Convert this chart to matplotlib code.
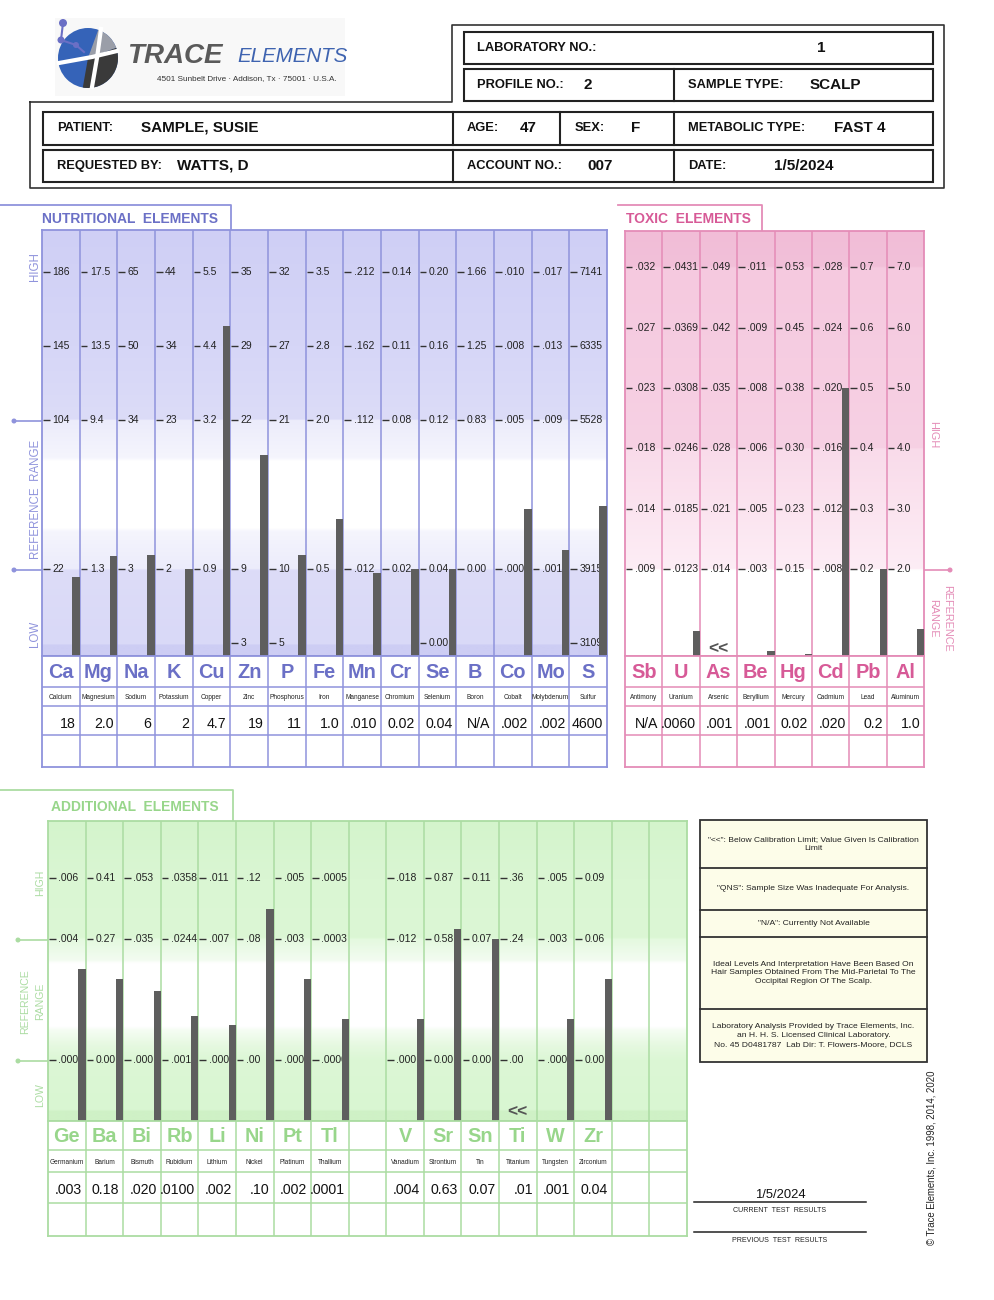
import matplotlib
matplotlib.use('Agg')
import matplotlib.pyplot as plt
import numpy as np
from matplotlib import font_manager as fm
from matplotlib.colors import to_rgb
from matplotlib.patches import Rectangle, Circle, Wedge

W, H = 994, 1300

# narrow font if the system has one, else shrink the regular one
try:
    fm.findfont(fm.FontProperties(family='Liberation Sans Narrow'), fallback_to_default=False)
    NARROW, NS = 'Liberation Sans Narrow', 1.0
except ValueError:
    NARROW, NS = 'Liberation Sans', 0.82
plt.rcParams['font.family'] = ['Liberation Sans', 'DejaVu Sans']

# ---- header data ----
lab_no = '1'
profile_no = '2'
sample_type = 'SCALP'
patient = 'SAMPLE, SUSIE'
age = '47'
sex = 'F'
metabolic_type = 'FAST 4'
requested_by = 'WATTS, D'
account_no = '007'
test_date = '1/5/2024'

# ---- nutritional elements ----
nutr_symbols = ['Ca', 'Mg', 'Na', 'K', 'Cu', 'Zn', 'P', 'Fe', 'Mn', 'Cr', 'Se', 'B', 'Co', 'Mo', 'S']
nutr_names = ['Calcium', 'Magnesium', 'Sodium', 'Potassium', 'Copper', 'Zinc', 'Phosphorus', 'Iron',
              'Manganese', 'Chromium', 'Selenium', 'Boron', 'Cobalt', 'Molybdenum', 'Sulfur']
nutr_results = ['18', '2.0', '6', '2', '4.7', '19', '11', '1.0', '.010', '0.02', '0.04', 'N/A', '.002', '.002', '4600']
nutr_lv5 = ['186', '17.5', '65', '44', '5.5', '35', '32', '3.5', '.212', '0.14', '0.20', '1.66', '.010', '.017', '7141']
nutr_lv4 = ['145', '13.5', '50', '34', '4.4', '29', '27', '2.8', '.162', '0.11', '0.16', '1.25', '.008', '.013', '6335']
nutr_lv3 = ['104', '9.4', '34', '23', '3.2', '22', '21', '2.0', '.112', '0.08', '0.12', '0.83', '.005', '.009', '5528']
nutr_lv1 = ['22', '1.3', '3', '2', '0.9', '9', '10', '0.5', '.012', '0.02', '0.04', '0.00', '.000', '.001', '3915']
nutr_lv0 = ['', '', '', '', '', '3', '5', '', '', '', '0.00', '', '', '', '3109']
# bar tops on the chart's grid-level scale
nutr_bar = [0.89, 1.17, 1.19, 1.0, 4.27, 2.54, 1.18, 1.67, 0.94, 1.0, 1.0, None, 1.8, 1.25, 1.85]

# ---- toxic elements ----
tox_symbols = ['Sb', 'U', 'As', 'Be', 'Hg', 'Cd', 'Pb', 'Al']
tox_names = ['Antimony', 'Uranium', 'Arsenic', 'Beryllium', 'Mercury', 'Cadmium', 'Lead', 'Aluminum']
tox_results = ['N/A', '.0060', '.001', '.001', '0.02', '.020', '0.2', '1.0']
tox_lv5 = ['.032', '.0431', '.049', '.011', '0.53', '.028', '0.7', '7.0']
tox_lv4 = ['.027', '.0369', '.042', '.009', '0.45', '.024', '0.6', '6.0']
tox_lv3 = ['.023', '.0308', '.035', '.008', '0.38', '.020', '0.5', '5.0']
tox_lv2 = ['.018', '.0246', '.028', '.006', '0.30', '.016', '0.4', '4.0']
tox_lv1 = ['.014', '.0185', '.021', '.005', '0.23', '.012', '0.3', '3.0']
tox_lv0 = ['.009', '.0123', '.014', '.003', '0.15', '.008', '0.2', '2.0']
tox_bar = [None, -1.03, None, -1.36, -1.41, 3.0, 0.0, -1.0]
tox_flags = ['', '', '<<', '', '', '', '', '']

# ---- additional elements ----
add_symbols = ['Ge', 'Ba', 'Bi', 'Rb', 'Li', 'Ni', 'Pt', 'Tl', '', 'V', 'Sr', 'Sn', 'Ti', 'W', 'Zr', '', '']
add_names = ['Germanium', 'Barium', 'Bismuth', 'Rubidium', 'Lithium', 'Nickel', 'Platinum', 'Thallium', '',
             'Vanadium', 'Strontium', 'Tin', 'Titanium', 'Tungsten', 'Zirconium', '', '']
add_results = ['.003', '0.18', '.020', '.0100', '.002', '.10', '.002', '.0001', '',
               '.004', '0.63', '0.07', '.01', '.001', '0.04', '', '']
add_lv3 = ['.006', '0.41', '.053', '.0358', '.011', '.12', '.005', '.0005', '',
           '.018', '0.87', '0.11', '.36', '.005', '0.09', '', '']
add_lv2 = ['.004', '0.27', '.035', '.0244', '.007', '.08', '.003', '.0003', '',
           '.012', '0.58', '0.07', '.24', '.003', '0.06', '', '']
add_lv0 = ['.000', '0.00', '.000', '.0017', '.000', '.00', '.000', '.0000', '',
           '.000', '0.00', '0.00', '.00', '.000', '0.00', '', '']
add_bar = [1.5, 1.33, 1.14, 0.73, 0.57, 2.5, 1.33, 0.67, None, 0.67, 2.17, 2.0, None, 0.67, 1.33, None, None]
add_flags = ['', '', '', '', '', '', '', '', '', '', '', '', '<<', '', '', '', '']

notes = [
    '"<<": Below Calibration Limit; Value Given Is Calibration\nLimit',
    '"QNS": Sample Size Was Inadequate For Analysis.',
    '"N/A": Currently Not Available',
    'Ideal Levels And Interpretation Have Been Based On\nHair Samples Obtained From The Mid-Parietal To The\nOccipital Region Of The Scalp.',
    'Laboratory Analysis Provided by Trace Elements, Inc.\nan H. H. S. Licensed Clinical Laboratory.\nNo. 45 D0481787  Lab Dir: T. Flowers-Moore, DCLS',
]

BLUE_L, BLUE_T = '#8f93dc', '#6b70c6'
PINK_L, PINK_T = '#e48cb7', '#d75a97'
GREEN_L, GREEN_T = '#abdca2', '#98d68b'

fig = plt.figure(figsize=(W / 100, H / 100), dpi=100)
bg = fig.add_axes([0, 0, 1, 1])
bg.set_xlim(0, W)
bg.set_ylim(H, 0)
bg.axis('off')


def box_axes(x0, y0, x1, y1):
    return fig.add_axes([x0 / W, 1 - y1 / H, (x1 - x0) / W, (y1 - y0) / H])


def panel(x0, x1, top, rows, lv_lo, lv_hi, stops, line_c, text_c, symbols, names, results,
          tick_rows, tick_levels, bars, flags, flag_lv, bar_w):
    n = len(symbols)
    ax = box_axes(x0, top, x1, rows[0])
    ys = np.linspace(lv_lo, lv_hi, 500)
    lv = [s[0] for s in stops]
    cols = np.array([to_rgb(s[1]) for s in stops])
    img = np.stack([np.interp(ys, lv, cols[:, k]) for k in range(3)], axis=-1)[:, None, :]
    ax.imshow(img, extent=[0, n, lv_lo, lv_hi], origin='lower', aspect='auto',
              interpolation='bilinear', zorder=0)
    ax.set_xlim(0, n)
    ax.set_ylim(lv_lo, lv_hi)
    ax.set_xticks([])
    ax.set_yticks([])
    for s in ax.spines.values():
        s.set_color(line_c)
        s.set_linewidth(1.3)
    for i in range(1, n):
        ax.axvline(i, color=line_c, lw=1.1, zorder=1)
    for labels, L in zip(tick_rows, tick_levels):
        for i, t in enumerate(labels):
            if t:
                ax.plot([i + 0.03, i + 0.2], [L, L], color='#333333', lw=1.0, zorder=2,
                        solid_capstyle='butt')
                ax.text(i + 0.27, L, t, fontsize=7.5, va='center', ha='left', color='#222222', zorder=3)
    idx = [i for i, b in enumerate(bars) if b is not None]
    ax.bar([i + 1 - bar_w / 2 for i in idx], [bars[i] - lv_lo for i in idx], bottom=lv_lo,
           width=bar_w, color='#5e5e5e', zorder=4)
    for i, f in enumerate(flags):
        if f:
            ax.text(i + 0.5, flag_lv, f, fontsize=12.5, weight='bold', color='#555555',
                    ha='center', va='center', zorder=5)

    tb = box_axes(x0, rows[0], x1, rows[-1])
    tb.set_xlim(0, n)
    tb.set_ylim(rows[-1], rows[0])
    tb.set_xticks([])
    tb.set_yticks([])
    for s in tb.spines.values():
        s.set_color(line_c)
        s.set_linewidth(1.3)
    for y in rows[1:-1]:
        tb.axhline(y, color=line_c, lw=1.1)
    for i in range(1, n):
        tb.axvline(i, color=line_c, lw=1.1)
    for i in range(n):
        tb.text(i + 0.5, (rows[0] + rows[1]) / 2 + 1, symbols[i], fontsize=17.5 * NS, family=NARROW,
                weight='bold', color=text_c, ha='center', va='center')
        tb.text(i + 0.5, (rows[1] + rows[2]) / 2 + 1, names[i], fontsize=4.7, color='#222222',
                ha='center', va='center')
        tb.text(i + 0.9, (rows[2] + rows[3]) / 2 + 3, results[i], fontsize=10.2, color='#111111',
                ha='right', va='center')
    return ax


# ---------------- header ----------------
bg.add_patch(Rectangle((55, 18), 290, 78, fc='#f8f8f8', ec='none'))
bg.add_patch(Circle((88, 58), 30, fc='#3563b8', ec='none'))
bg.add_patch(Wedge((88, 58), 30, -20, 100, fc='#3a3a3a', ec='none'))
bg.add_patch(Wedge((88, 58), 30, -70, -20, fc='#9a9ea8', ec='none'))
bg.plot([101, 97, 92], [29, 58, 87], color='white', lw=3)
bg.plot([59, 92, 117], [63, 57, 51], color='white', lw=3)
bg.plot([63, 61, 76, 84], [23, 40, 45, 52], color='#6a6fc5', lw=1.5)
for cx, cy, r in [(63, 23, 4), (61, 40, 3.5), (76, 45, 3)]:
    bg.add_patch(Circle((cx, cy), r, fc='#6a6fc5', ec='none'))
bg.text(127, 56, 'TRACE', fontsize=20, weight='bold', style='italic', color='#5a5a5a',
        ha='left', va='center')
bg.text(237, 56, 'ELEMENTS', fontsize=18 * NS, family=NARROW, style='italic', color='#3e63b0',
        ha='left', va='center')
bg.text(157, 79, '4501 Sunbelt Drive \u00b7 Addison, Tx \u00b7 75001 \u00b7 U.S.A.', fontsize=5.9,
        color='#333333', ha='left', va='center')

bg.plot([30, 452, 452, 944, 944, 30, 30], [102, 102, 25, 25, 188, 188, 102], color='#333333', lw=1.2)
for x0, y0, x1, y1 in [(464, 32, 933, 64), (464, 69, 933, 101), (43, 112, 933, 145), (43, 150, 933, 182)]:
    bg.add_patch(Rectangle((x0, y0), x1 - x0, y1 - y0, fill=False, ec='#222222', lw=1.5))
for x, y0, y1 in [(674, 69, 101), (453, 112, 145), (560, 112, 145), (674, 112, 145),
                  (453, 150, 182), (674, 150, 182)]:
    bg.plot([x, x], [y0, y1], color='#222222', lw=1.5)


def hlabel(x, y, s):
    bg.text(x, y, s, fontsize=9.3, weight='bold', color='#111111', ha='left', va='center')


def hvalue(x, y, s):
    bg.text(x, y, s, fontsize=11, weight='bold', color='#111111', ha='left', va='center')


hlabel(477, 48, 'LABORATORY NO.:')
hvalue(817, 48, lab_no)
hlabel(477, 85, 'PROFILE NO.:')
hvalue(583, 85, profile_no)
hlabel(688, 85, 'SAMPLE TYPE:')
hvalue(810, 85, sample_type)
hlabel(57, 128, 'PATIENT:')
hvalue(141, 128, patient)
hlabel(467, 128, 'AGE:')
hvalue(520, 128, age)
hlabel(575, 128, 'SEX:')
hvalue(631, 128, sex)
hlabel(688, 128, 'METABOLIC TYPE:')
hvalue(834, 128, metabolic_type)
hlabel(57, 166, 'REQUESTED BY:')
hvalue(177, 166, requested_by)
hlabel(467, 166, 'ACCOUNT NO.:')
hvalue(587, 166, account_no)
hlabel(688, 166, 'DATE:')
hvalue(774, 166, test_date)

# ---------------- nutritional ----------------
bg.plot([0, 231, 231], [205, 205, 230], color=BLUE_L, lw=1.3)
bg.text(42, 219, 'NUTRITIONAL  ELEMENTS', fontsize=12.2 * NS, family=NARROW, weight='bold',
        color=BLUE_T, ha='left', va='center')
nutr_stops = [(-0.175, '#cdcdf4'), (-0.03, '#cdcdf4'), (-0.02, '#d9d9f7'), (0.98, '#dddcf8'),
              (1.0, '#ececfb'), (1.5, '#f5f5fd'), (1.55, '#ffffff'), (2.45, '#ffffff'),
              (2.5, '#f5f5fd'), (3.0, '#ececfb'), (3.02, '#dcdcf8'), (4.0, '#d6d6f7'), (5.566, '#cfcff5')]
panel(42, 607, 230, [656, 687, 706, 735, 767], -0.175, 5.566, nutr_stops, BLUE_L, BLUE_T,
      nutr_symbols, nutr_names, nutr_results,
      [nutr_lv5, nutr_lv4, nutr_lv3, nutr_lv1, nutr_lv0], [5, 4, 3, 1, 0], nutr_bar, [''] * 15, 0, 0.2)
bg.text(35, 267, 'HIGH', rotation=90, fontsize=8.3, color=BLUE_L, ha='center', va='center')
bg.text(36, 499, 'REFERENCE  RANGE', rotation=90, fontsize=8.3, color=BLUE_L, ha='center', va='center')
bg.text(35, 634, 'LOW', rotation=90, fontsize=8.3, color=BLUE_L, ha='center', va='center')
for y in [421, 570]:
    bg.plot([14, 42], [y, y], color=BLUE_L, lw=1.2)
    bg.add_patch(Circle((14, y), 2.5, fc=BLUE_L, ec='none'))

# ---------------- toxic ----------------
bg.plot([618, 762, 762], [205, 205, 231], color=PINK_L, lw=1.3)
bg.text(626, 219, 'TOXIC  ELEMENTS', fontsize=12.2 * NS, family=NARROW, weight='bold',
        color=PINK_T, ha='left', va='center')
tox_stops = [(-1.44, '#ffffff'), (-0.02, '#ffffff'), (0.0, '#fdedf5'), (1.98, '#f9dbea'),
             (2.0, '#f7d1e4'), (4.98, '#f5c9df'), (5.0, '#f2c0d9'), (5.6, '#f1bdd7')]
panel(625, 924, 231, [656, 687, 706, 735, 767], -1.44, 5.6, tox_stops, PINK_L, PINK_T,
      tox_symbols, tox_names, tox_results,
      [tox_lv5, tox_lv4, tox_lv3, tox_lv2, tox_lv1, tox_lv0], [5, 4, 3, 2, 1, 0], tox_bar,
      tox_flags, -1.31, 0.19)
bg.text(933, 435, 'HIGH', rotation=270, fontsize=7.8, color=PINK_L, ha='center', va='center')
bg.text(947, 618, 'REFERENCE', rotation=270, fontsize=7.8, color=PINK_L, ha='center', va='center')
bg.text(933, 618, 'RANGE', rotation=270, fontsize=7.8, color=PINK_L, ha='center', va='center')
bg.plot([924, 950], [570, 570], color=PINK_L, lw=1.2)
bg.add_patch(Circle((950, 570), 2.5, fc=PINK_L, ec='none'))

# ---------------- additional ----------------
bg.plot([0, 233, 233], [790, 790, 821], color=GREEN_L, lw=1.3)
bg.text(51, 807, 'ADDITIONAL  ELEMENTS', fontsize=12.2 * NS, family=NARROW, weight='bold',
        color=GREEN_T, ha='left', va='center')
add_stops = [(-1.01, '#cff1c6'), (-0.85, '#cff1c6'), (-0.83, '#d9f6d2'), (0.0, '#dcf7d5'),
             (0.25, '#e6f9e1'), (0.5, '#f6fdf4'), (0.55, '#ffffff'), (1.6, '#ffffff'),
             (1.65, '#f3fcf1'), (2.0, '#e4f9df'), (2.02, '#dcf7d5'), (3.0, '#daf6d3'), (3.95, '#d4f4cc')]
panel(48, 687, 821, [1121, 1150, 1172, 1203, 1236], -1.01, 3.95, add_stops, GREEN_L, GREEN_T,
      add_symbols, add_names, add_results,
      [add_lv3, add_lv2, add_lv0], [3, 2, 0], add_bar, add_flags, -0.86, 0.19)
bg.text(40, 883, 'HIGH', rotation=90, fontsize=7.6, color=GREEN_L, ha='center', va='center')
bg.text(25, 1002, 'REFERENCE', rotation=90, fontsize=7.6, color=GREEN_L, ha='center', va='center')
bg.text(40, 1001, 'RANGE', rotation=90, fontsize=7.6, color=GREEN_L, ha='center', va='center')
bg.text(40, 1095, 'LOW', rotation=90, fontsize=7.6, color=GREEN_L, ha='center', va='center')
for y in [940, 1061]:
    bg.plot([18, 48], [y, y], color=GREEN_L, lw=1.2)
    bg.add_patch(Circle((18, y), 2.5, fc=GREEN_L, ec='none'))

# ---------------- notes ----------------
note_rows = [820, 868, 910, 937, 1009, 1062]
bg.add_patch(Rectangle((700, 820), 227, 242, fc='#fdfde9', ec='#333333', lw=1.3))
for y in note_rows[1:-1]:
    bg.plot([700, 927], [y, y], color='#333333', lw=1.3)
for k, txt in enumerate(notes):
    bg.text(813.5, (note_rows[k] + note_rows[k + 1]) / 2, txt, fontsize=6.1, color='#222222',
            ha='center', va='center', linespacing=1.35)

bg.plot([694, 866], [1202, 1202], color='#222222', lw=1.1)
bg.text(780, 1195, test_date, fontsize=9.4, color='#111111', ha='center', va='center')
bg.text(780, 1211, 'CURRENT  TEST  RESULTS', fontsize=5.1, color='#222222', ha='center', va='center')
bg.plot([694, 866], [1232, 1232], color='#222222', lw=1.1)
bg.text(780, 1240, 'PREVIOUS  TEST  RESULTS', fontsize=5.1, color='#222222', ha='center', va='center')
bg.text(932, 1158, '\u00a9 Trace Elements, Inc. 1998, 2014, 2020', rotation=90, fontsize=6.9,
        color='#222222', ha='center', va='center')

fig.savefig('out.png', dpi=100)
